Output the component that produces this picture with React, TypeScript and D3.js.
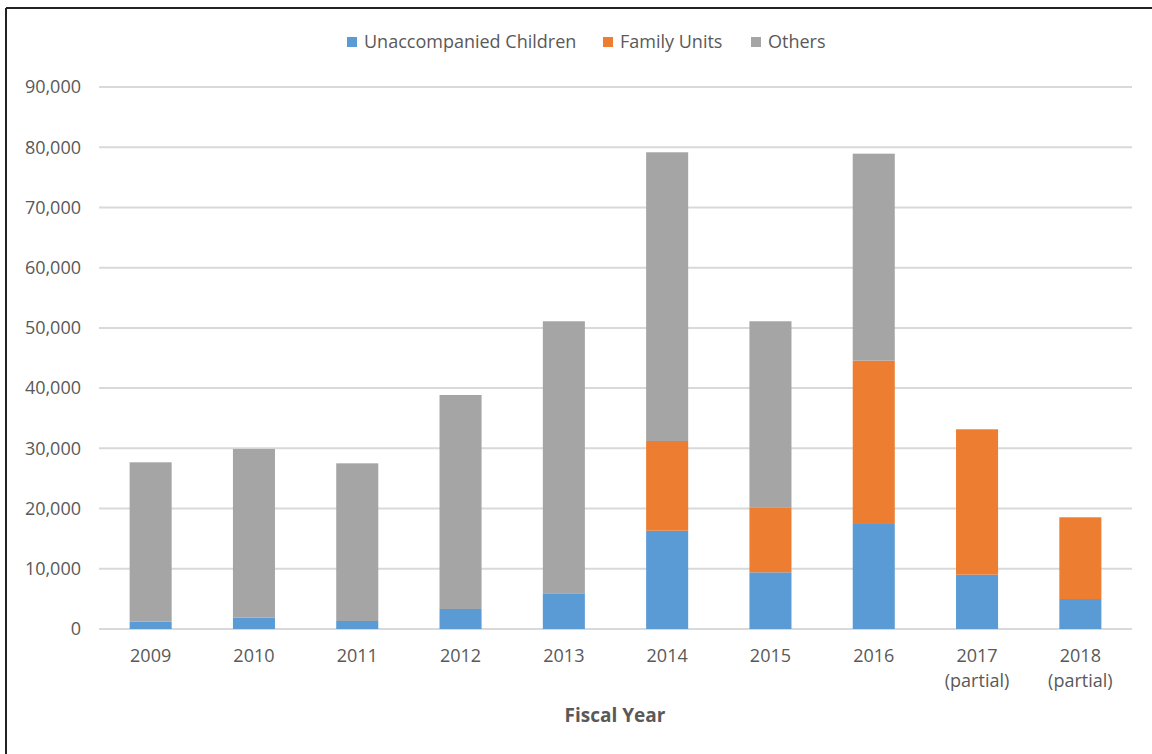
import React from "react";
import * as d3 from "d3";

const years = ["2009", "2010", "2011", "2012", "2013", "2014", "2015", "2016", "2017", "2018"];
const yearSub = ["", "", "", "", "", "", "", "", "(partial)", "(partial)"];
const unaccompanied = [1210, 1880, 1330, 3320, 5930, 16320, 9410, 17440, 9020, 4980];
const familyUnits = [0, 0, 0, 0, 0, 14900, 10800, 27120, 24140, 13570];
const others = [26470, 28020, 26180, 35540, 45170, 47940, 30890, 34370, 0, 0];
const yTicks = [0, 10000, 20000, 30000, 40000, 50000, 60000, 70000, 80000, 90000];
const seriesNames = ["Unaccompanied Children", "Family Units", "Others"];
const colors = ["#5B9BD5", "#ED7D31", "#A5A5A5"];

const W = 1152;
const H = 754;
const FONT = "'Open Sans', sans-serif";
const TXT = "#595959";
const FS = 18;

export default function App() {
  const x = d3.scaleBand<string>().domain(years).range([99, 1132]).paddingInner(0.593).paddingOuter(0.2965);
  const y = d3.scaleLinear().domain([0, 90000]).range([629, 87]);

  const rows = years.map((yr, i) => ({
    year: yr,
    uc: unaccompanied[i],
    fu: familyUnits[i],
    ot: others[i],
  }));
  const stack = d3.stack<any>().keys(["uc", "fu", "ot"]);
  const stacked = stack(rows);
  const fmt = d3.format(",");

  const legendX = [347, 603, 751];

  return (
    <svg width={W} height={H} style={{ position: "absolute", left: 0, top: 0, display: "block" }}>
      <rect x={0} y={0} width={W} height={H} fill="#ffffff" />
      {/* frame */}
      <line x1={6} x2={W} y1={8} y2={8} stroke="#222" strokeWidth={2} />
      <line x1={6} x2={6} y1={8} y2={H} stroke="#222" strokeWidth={2} />

      {/* gridlines */}
      {yTicks.map((t) => (
        <line key={"g" + t} x1={99} x2={1132} y1={y(t)} y2={y(t)} stroke="#D9D9D9" strokeWidth={2} />
      ))}
      {yTicks.map((t) => (
        <text key={"yl" + t} x={81} y={y(t)} dy="0.35em" textAnchor="end" fontFamily={FONT} fontSize={FS} fill={TXT}>
          {fmt(t)}
        </text>
      ))}

      {/* bars */}
      {stacked.map((s, si) => (
        <g key={"s" + si} fill={colors[si]}>
          {s.map((d, i) =>
            d[1] - d[0] > 0 ? (
              <rect
                key={i}
                x={x(years[i])}
                y={y(d[1])}
                width={x.bandwidth()}
                height={y(d[0]) - y(d[1])}
              />
            ) : null
          )}
        </g>
      ))}

      {/* x tick labels */}
      {years.map((yr, i) => (
        <g key={"xl" + yr}>
          <text x={(x(yr) as number) + x.bandwidth() / 2} y={656} dy="0.35em" textAnchor="middle" fontFamily={FONT} fontSize={FS} fill={TXT}>
            {yr}
          </text>
          {yearSub[i] ? (
            <text x={(x(yr) as number) + x.bandwidth() / 2} y={681} dy="0.35em" textAnchor="middle" fontFamily={FONT} fontSize={FS} fill={TXT}>
              {yearSub[i]}
            </text>
          ) : null}
        </g>
      ))}

      {/* axis title */}
      <text x={615} y={715} dy="0.35em" textAnchor="middle" fontFamily={FONT} fontSize={19} fontWeight="bold" fill={TXT}>
        Fiscal Year
      </text>

      {/* legend */}
      {seriesNames.map((n, i) => (
        <g key={"lg" + i}>
          <rect x={legendX[i]} y={37} width={10} height={10} fill={colors[i]} />
          <text x={legendX[i] + 17} y={42} dy="0.35em" fontFamily={FONT} fontSize={FS} fill={TXT}>
            {n}
          </text>
        </g>
      ))}
    </svg>
  );
}
